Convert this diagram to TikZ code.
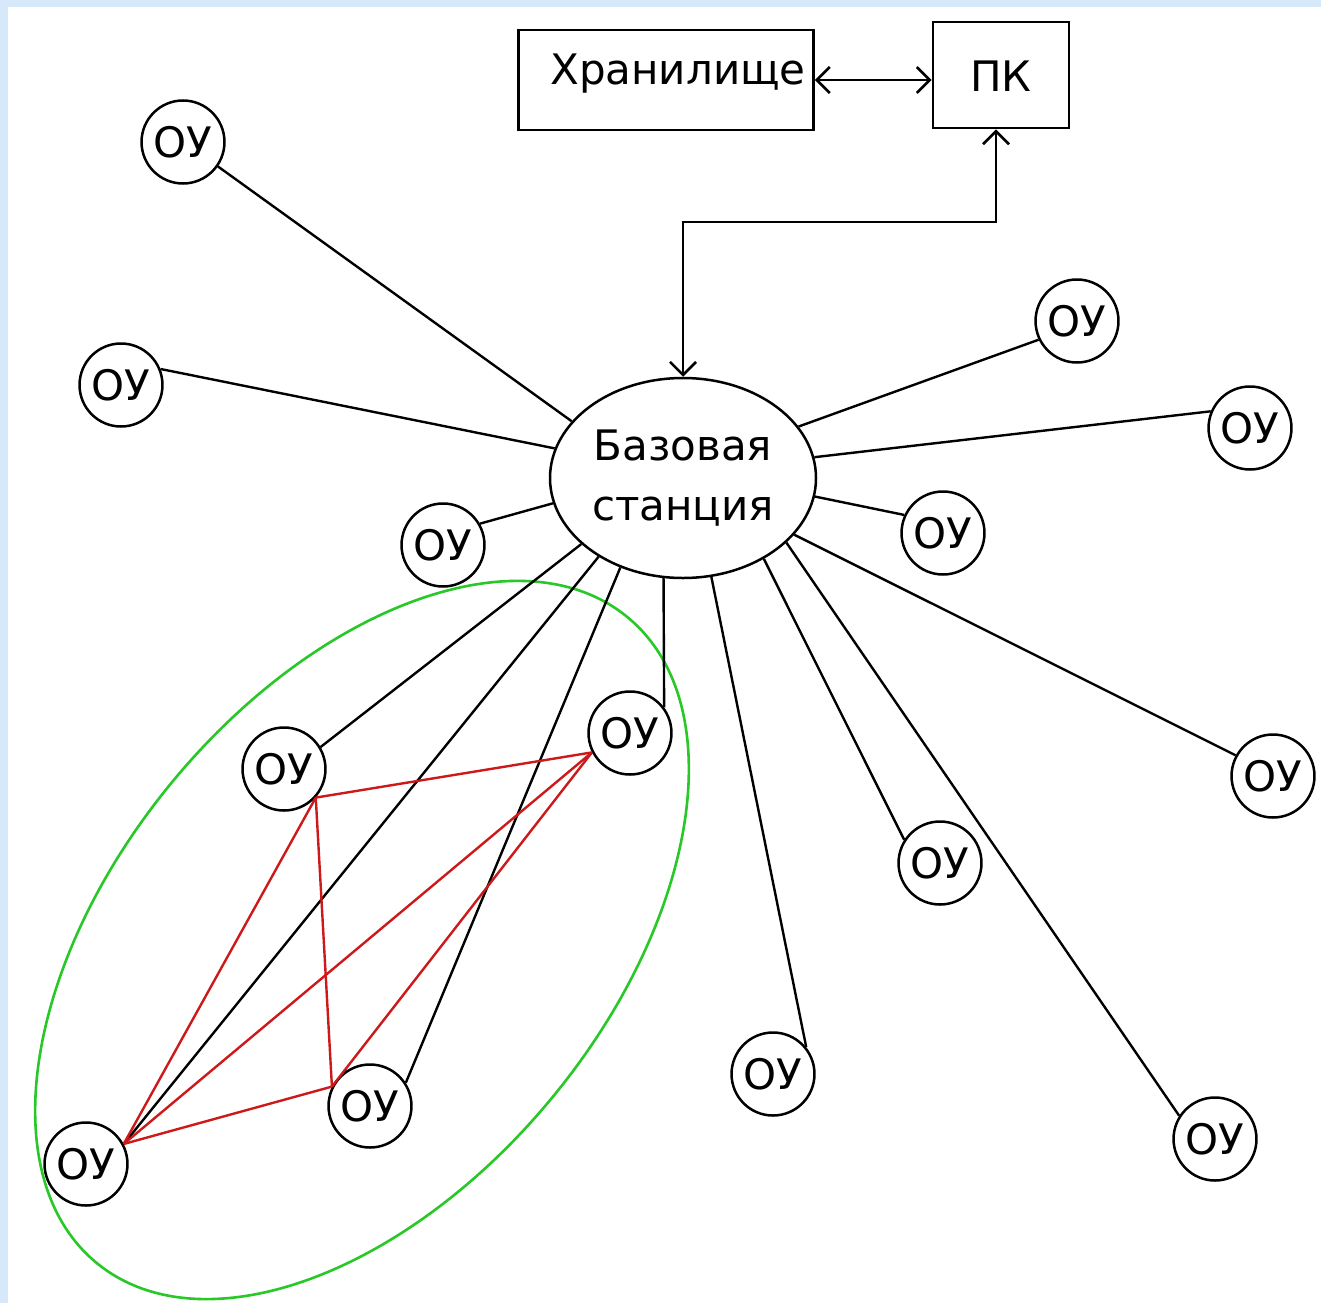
\documentclass[tikz,border=0pt]{standalone}
\usepackage{fontspec}
\setmainfont{DejaVu Sans}
\usetikzlibrary{shapes.geometric,arrows.meta}
\definecolor{bgblue}{RGB}{214,232,250}
\definecolor{ringgreen}{RGB}{40,200,40}
\definecolor{meshred}{RGB}{205,25,25}
\tikzset{
  ou/.style={ellipse,draw,line width=2.5pt,fill=white,minimum width=75pt,minimum height=83pt,inner sep=0pt,font=\fontsize{42}{48}\selectfont},
  bstation/.style={ellipse,draw,line width=2.5pt,fill=white,minimum width=266pt,minimum height=200pt,inner sep=0pt,align=center,font=\fontsize{42}{60}\selectfont},
  boxnode/.style={rectangle,draw,line width=2.8pt,inner sep=0pt,font=\fontsize{42}{48}\selectfont},
  link/.style={line width=2.4pt,black},
  mesh/.style={line width=2.4pt,meshred},
  arr/.style={line width=2.6pt,{Straight Barb[length=13pt,width=26pt]}-{Straight Barb[length=13pt,width=26pt]}}
}
\begin{document}
\begin{tikzpicture}[x=1pt,y=-1pt]
\useasboundingbox (0,0) rectangle (1321,1303);
\fill[bgblue] (0,0) rectangle (1321,1303);
\fill[white] (8,7) rectangle (1321,1303);
% green group
\draw[ringgreen,line width=2.6pt] (362,940) ellipse [x radius=418, y radius=247, rotate=50.6];
% boxes
\node[boxnode,minimum width=295pt,text height=55pt,text depth=45pt] (stor) at (666,80) {\hspace*{24pt}Хранилище};
\node[boxnode,minimum width=136pt,text height=70pt,text depth=36pt] (pc) at (1001,75) {ПК};
% base station
\node[bstation] (bs) at (683,478) {Базовая\\станция};
% terminal devices
\node[ou] (ou1) at (183,142) {ОУ};
\node[ou] (ou2) at (121,385) {ОУ};
\node[ou] (ou3) at (443,545) {ОУ};
\node[ou] (ou4) at (1077,321) {ОУ};
\node[ou] (ou5) at (1250,428) {ОУ};
\node[ou] (ou6) at (943,533) {ОУ};
\node[ou] (ou7) at (1273,776) {ОУ};
\node[ou] (ou8) at (940,863) {ОУ};
\node[ou] (ou9) at (1215,1139) {ОУ};
\node[ou] (ou10) at (773,1074) {ОУ};
\node[ou] (ou11) at (284,769) {ОУ};
\node[ou] (ou12) at (630,733) {ОУ};
\node[ou] (ou13) at (370,1106) {ОУ};
\node[ou] (ou14) at (86,1164) {ОУ};
% arrows
\draw[arr] (stor.east) -- (stor.east -| pc.west);
\coordinate (turn) at (996,222);
\draw[arr] (bs.north) |- (turn) -- (turn |- pc.south);
% links to base station
\draw[link] (bs.153.8) -- (ou1.-35);
\draw[link] (bs.167.8) -- (ou2.22);
\draw[link] (bs.191.7) -- (ou3.30);
\draw[link] (bs.24.4) -- (ou4.206);
\draw[link] (bs.9.7) -- (ou5.157);
\draw[link] (bs.-8) -- (ou6.155);
\draw[link] (bs.-27.4) -- (ou7.151);
\draw[link] (bs.-32.8) -- (ou9.147);
\draw[link] (bs.-45.7) -- (ou8.147);
\draw[link] (bs.-74.7) -- (ou10.39);
\draw[link] (bs.-101.4) -- (ou12.37);
\draw[link] (bs.-125.3) -- (ou13.33);
\draw[link] (bs.-137.8) -- (ou14.28);
\draw[link] (bs.-147.7) -- (ou11.31);
% mesh
\draw[mesh] (ou11.-42) -- (ou13.153);
\draw[mesh] (ou11.-42) -- (ou12.207);
\draw[mesh] (ou11.-42) -- (ou14.28);
\draw[mesh] (ou14.28) -- (ou13.153);
\draw[mesh] (ou14.28) -- (ou12.207);
\draw[mesh] (ou13.153) -- (ou12.207);
\end{tikzpicture}
\end{document}
